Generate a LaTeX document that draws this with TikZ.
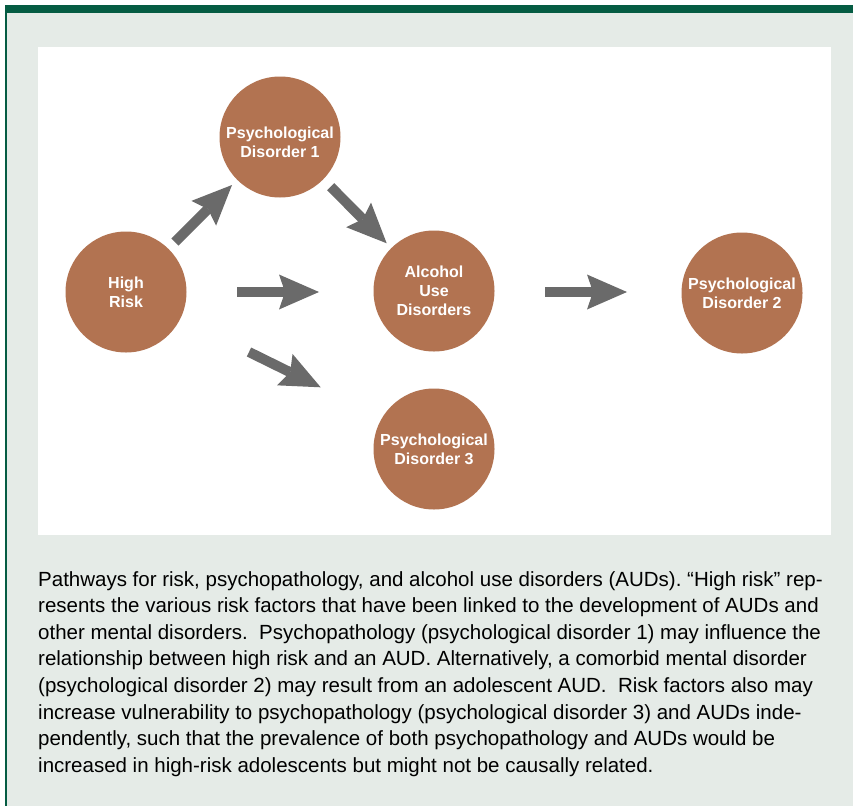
\documentclass[tikz,border=0pt]{standalone}
\usepackage{fontspec}
\setmainfont{Liberation Sans}
\usetikzlibrary{arrows.meta}
\definecolor{bgc}{HTML}{E5EBE7}
\definecolor{framegreen}{HTML}{055C43}
\definecolor{discc}{HTML}{B27351}
\definecolor{arrowc}{HTML}{6A6A6A}
\begin{document}
\frenchspacing
\begin{tikzpicture}[x=1pt,y=-1pt,
  disc/.style={circle, fill=discc, minimum size=121pt, inner sep=0pt, text=white,
    font=\bfseries\fontsize{16}{19}\selectfont, align=center},
  disctext/.style={inner sep=0pt, text=white,
    font=\bfseries\fontsize{16}{19}\selectfont, align=center},
  bigarrow/.style={draw=arrowc, line width=10pt,
    -{Stealth[length=40pt, width=35pt, inset=6pt, line width=0pt, fill=arrowc]}},
  capline/.style={anchor=base west, inner sep=0pt, text=black,
    font=\fontsize{20.5}{26.6}\selectfont}]
\useasboundingbox (0,0) rectangle (853,806);
\fill[white] (0,0) rectangle (853,806);
\fill[bgc] (5,5) rectangle (853,806);
\fill[framegreen] (5,5) rectangle (853,12.7);
\fill[framegreen] (5,5) rectangle (6.5,806);
\fill[white] (38,47) rectangle (831,535);

\node[disc] (hr)  at (126,292) {High\\Risk};
\node[disc] (pd1) at (280,137) {};
\node[disctext] (pd1t) at (280,142) {Psychological\\Disorder 1};
\node[disc] (aud) at (434,291) {Alcohol\\Use\\Disorders};
\node[disc] (pd2) at (742,293) {Psychological\\Disorder 2};
\node[disc] (pd3) at (434,449) {Psychological\\Disorder 3};

\coordinate (a1s) at (175,242);
\coordinate (a1e) at (232,185);
\coordinate (a2s) at (330.7,186.7);
\coordinate (a2e) at (386.7,243.3);
\coordinate (a3s) at (237,292);
\coordinate (a3e) at (319,292);
\coordinate (a4s) at (249,352);
\coordinate (a4e) at (320.7,387.3);
\coordinate (a5s) at (545,292);
\coordinate (a5e) at (627,292);
\draw[bigarrow] (a1s) -- (a1e);
\draw[bigarrow] (a2s) -- (a2e);
\draw[bigarrow] (a3s) -- (a3e);
\draw[bigarrow] (a4s) -- (a4e);
\draw[bigarrow] (a5s) -- (a5e);

\node[capline] (c1) at (38,586.0) {Pathways for risk, psychopathology, and alcohol use disorders (AUDs). “High risk” rep-};
\node[capline] (c2) at (38,612.6) {resents the various risk factors that have been linked to the development of AUDs and};
\node[capline] (c3) at (38,639.2) {other mental disorders.\ \ Psychopathology (psychological disorder 1) may influence the};
\node[capline] (c4) at (38,665.8) {relationship between high risk and an AUD. Alternatively, a comorbid mental disorder};
\node[capline] (c5) at (38,692.4) {(psychological disorder 2) may result from an adolescent AUD.\ \ Risk factors also may};
\node[capline] (c6) at (38,719.0) {increase vulnerability to psychopathology (psychological disorder 3) and AUDs inde-};
\node[capline] (c7) at (38,745.6) {pendently, such that the prevalence of both psychopathology and AUDs would be};
\node[capline] (c8) at (38,772.2) {increased in high-risk adolescents but might not be causally related.};
\end{tikzpicture}
\end{document}
